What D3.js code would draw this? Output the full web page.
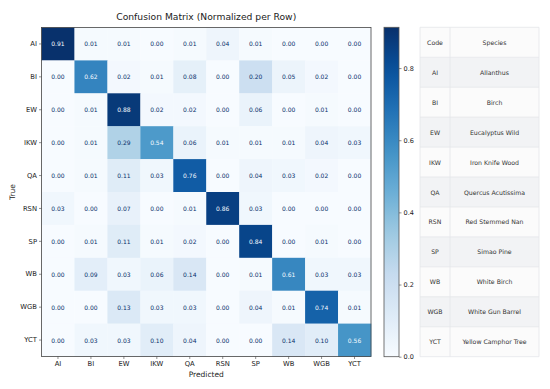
<!DOCTYPE html>
<html><head><meta charset="utf-8">
<script src="https://cdn.jsdelivr.net/npm/d3@7"></script>
<style>body{margin:0;background:#fff;} svg{display:block;font-family:"DejaVu Sans",sans-serif;}</style>
</head><body><div id="chart"></div>
<script>
const codes = ["AI","BI","EW","IKW","QA","RSN","SP","WB","WGB","YCT"];
const species = ["Allanthus","Birch","Eucalyptus Wild","Iron Knife Wood","Quercus Acutissima","Red Stemmed Nan","Simao Pine","White Birch","White Gun Barrel","Yellow Camphor Tree"];
const rowAI  = [0.91,0.01,0.01,0.00,0.01,0.04,0.01,0.00,0.00,0.00];
const rowBI  = [0.00,0.62,0.02,0.01,0.08,0.00,0.20,0.05,0.02,0.00];
const rowEW  = [0.00,0.01,0.88,0.02,0.02,0.00,0.06,0.00,0.01,0.00];
const rowIKW = [0.00,0.01,0.29,0.54,0.06,0.01,0.01,0.01,0.04,0.03];
const rowQA  = [0.00,0.01,0.11,0.03,0.76,0.00,0.04,0.03,0.02,0.00];
const rowRSN = [0.03,0.00,0.07,0.00,0.01,0.86,0.03,0.00,0.00,0.00];
const rowSP  = [0.00,0.01,0.11,0.01,0.02,0.00,0.84,0.00,0.01,0.00];
const rowWB  = [0.00,0.09,0.03,0.06,0.14,0.00,0.01,0.61,0.03,0.03];
const rowWGB = [0.00,0.00,0.13,0.03,0.03,0.00,0.04,0.01,0.74,0.01];
const rowYCT = [0.00,0.03,0.03,0.10,0.04,0.00,0.00,0.14,0.10,0.56];
const matrix = [rowAI,rowBI,rowEW,rowIKW,rowQA,rowRSN,rowSP,rowWB,rowWGB,rowYCT];
const cbTicks = [0.0,0.2,0.4,0.6,0.8];
const vmax = 0.913;

const W = 550, H = 389;
const svg = d3.select("#chart").append("svg").attr("width", W).attr("height", H);
const L = 41.5, R = 371, T = 27.5, B = 356.5;
const x = d3.scaleBand().domain(codes).range([L, R]);
const y = d3.scaleBand().domain(codes).range([T, B]);
const blues = ["#f7fbff","#deebf7","#c6dbef","#9ecae1","#6baed6","#4292c6","#2171b5","#08519c","#08306b"];
const color = d3.scaleLinear().domain(blues.map((_, i) => vmax * i / 8)).range(blues).clamp(true);

const cells = [];
matrix.forEach((row, i) => row.forEach((v, j) => cells.push({r: codes[i], c: codes[j], v})));
svg.append("g").selectAll("rect").data(cells).join("rect")
  .attr("x", d => x(d.c)).attr("y", d => y(d.r))
  .attr("width", x.bandwidth() + 0.3).attr("height", y.bandwidth() + 0.3)
  .attr("fill", d => color(d.v));
svg.append("g").selectAll("text").data(cells).join("text")
  .attr("x", d => x(d.c) + x.bandwidth() / 2).attr("y", d => y(d.r) + y.bandwidth() / 2)
  .attr("text-anchor", "middle").attr("dominant-baseline", "central")
  .attr("font-size", 6).attr("fill", d => d.v > vmax / 2 ? "#f7fbff" : "#08306b")
  .text(d => d.v.toFixed(2));
svg.append("rect").attr("x", L).attr("y", T).attr("width", R - L).attr("height", B - T)
  .attr("fill", "none").attr("stroke", "#444").attr("stroke-width", 0.8);

const xAxis = svg.append("g").attr("transform", `translate(0,${B})`)
  .call(d3.axisBottom(x).tickSize(2.5).tickPadding(2));
const yAxis = svg.append("g").attr("transform", `translate(${L},0)`)
  .call(d3.axisLeft(y).tickSize(2.5).tickPadding(2));
[xAxis, yAxis].forEach(a => {
  a.select(".domain").remove();
  a.selectAll("line").attr("stroke", "#444").attr("stroke-width", 0.6);
  a.selectAll("text").attr("font-size", 6.8).attr("fill", "#222").attr("font-family", "DejaVu Sans");
});

svg.append("text").attr("x", (L + R) / 2).attr("y", 20).attr("text-anchor", "middle")
  .attr("font-size", 9.2).attr("fill", "#222").text("Confusion Matrix (Normalized per Row)");
svg.append("text").attr("x", (L + R) / 2).attr("y", 377).attr("text-anchor", "middle")
  .attr("font-size", 7.5).attr("fill", "#222").text("Predicted");
svg.append("text").attr("transform", `translate(15,${(T + B) / 2}) rotate(-90)`).attr("text-anchor", "middle")
  .attr("font-size", 7.5).attr("fill", "#222").text("True");

// colorbar
const cbL = 384, cbW = 15, cbT = 27.3, cbB = 356.7;
const defs = svg.append("defs");
const grad = defs.append("linearGradient").attr("id", "cbg").attr("x1", 0).attr("y1", 1).attr("x2", 0).attr("y2", 0);
d3.range(0, 1.0001, 0.05).forEach(t => grad.append("stop").attr("offset", t).attr("stop-color", color(t * vmax)));
svg.append("rect").attr("x", cbL).attr("y", cbT).attr("width", cbW).attr("height", cbB - cbT)
  .attr("fill", "url(#cbg)").attr("stroke", "#555").attr("stroke-width", 0.8);
const cy = d3.scaleLinear().domain([0, vmax]).range([cbB, cbT]);
const cbAxis = svg.append("g").attr("transform", `translate(${cbL + cbW},0)`)
  .call(d3.axisRight(cy).tickValues(cbTicks).tickFormat(d3.format(".1f")).tickSize(2.5).tickPadding(2));
cbAxis.select(".domain").remove();
cbAxis.selectAll("line").attr("stroke", "#444").attr("stroke-width", 0.6);
cbAxis.selectAll("text").attr("font-size", 6.5).attr("fill", "#222").attr("font-family", "DejaVu Sans");

// table
const tL = 420, tR = 539, tDiv = 450;
const tRows = [{c: "Code", s: "Species"}].concat(codes.map((c, i) => ({c, s: species[i]})));
const ty = d3.scaleBand().domain(d3.range(tRows.length)).range([cbT, cbB]);
const tg = svg.append("g");
tg.selectAll("rect").data(tRows).join("rect")
  .attr("x", tL).attr("y", (d, i) => ty(i)).attr("width", tR - tL).attr("height", ty.bandwidth())
  .attr("fill", (d, i) => i % 2 === 0 ? "#fbfbfb" : "#f2f3f5");
tg.selectAll("line.h").data(d3.range(tRows.length + 1)).join("line").attr("class", "h")
  .attr("x1", tL).attr("x2", tR).attr("y1", i => i < tRows.length ? ty(i) : cbB).attr("y2", i => i < tRows.length ? ty(i) : cbB)
  .attr("stroke", "#e4e6ea").attr("stroke-width", 0.8);
[tL, tDiv, tR].forEach(xx => tg.append("line").attr("x1", xx).attr("x2", xx).attr("y1", cbT).attr("y2", cbB)
  .attr("stroke", "#e4e6ea").attr("stroke-width", 0.8));
tg.selectAll("text.c").data(tRows).join("text").attr("class", "c")
  .attr("x", (tL + tDiv) / 2).attr("y", (d, i) => ty(i) + ty.bandwidth() / 2)
  .attr("text-anchor", "middle").attr("dominant-baseline", "central").attr("font-size", 6.2).attr("fill", "#333").text(d => d.c);
tg.selectAll("text.s").data(tRows).join("text").attr("class", "s")
  .attr("x", (tDiv + tR) / 2).attr("y", (d, i) => ty(i) + ty.bandwidth() / 2)
  .attr("text-anchor", "middle").attr("dominant-baseline", "central").attr("font-size", 6.2).attr("fill", "#333").text(d => d.s);
</script></body></html>
